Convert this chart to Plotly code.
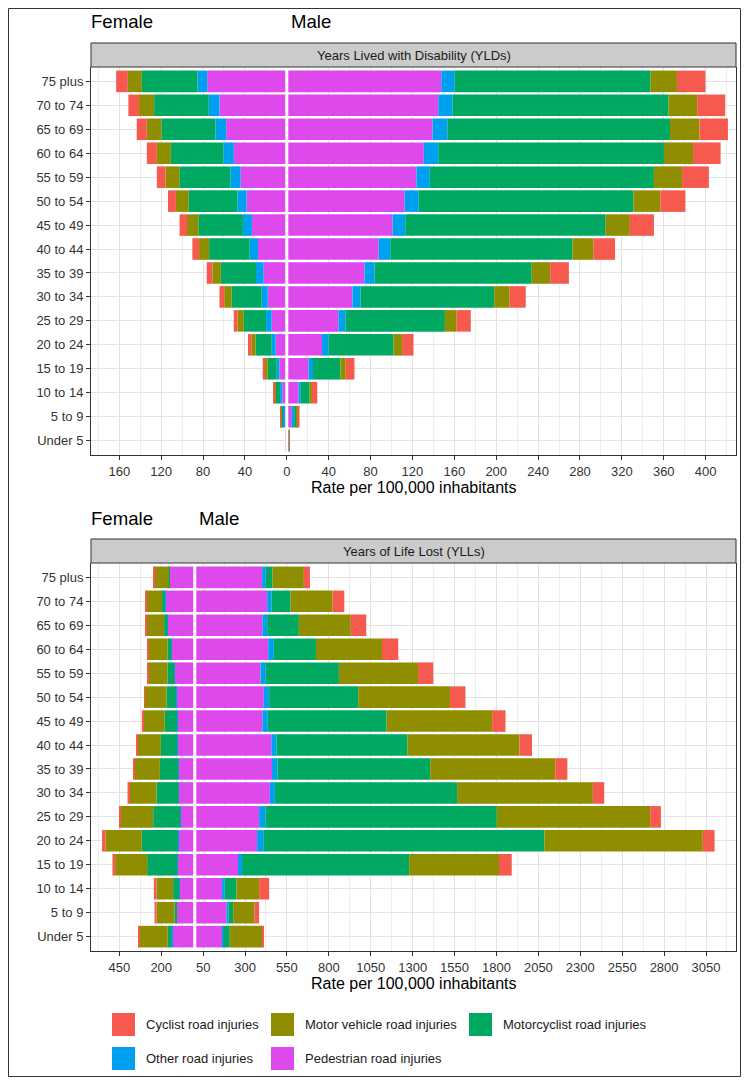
import plotly.graph_objects as go

# figure sits in the page with an 8px body margin
OX, OY = 8, 8
W, H = 733, 1069
FONT = "Liberation Sans, Arial, Helvetica, sans-serif"

# ---------------- data ----------------
ages = ["Under 5", "5 to 9", "10 to 14", "15 to 19", "20 to 24", "25 to 29",
        "30 to 34", "35 to 39", "40 to 44", "45 to 49", "50 to 54", "55 to 59",
        "60 to 64", "65 to 69", "70 to 74", "75 plus"]

# stacking order from zero outward
causes = ["Pedestrian road injuries", "Other road injuries",
          "Motorcyclist road injuries", "Motor vehicle road injuries",
          "Cyclist road injuries"]
legend_order = ["Cyclist road injuries", "Motor vehicle road injuries",
                "Motorcyclist road injuries", "Other road injuries",
                "Pedestrian road injuries"]
cause_colors = ["#DE49EC", "#00A0F0", "#00A862", "#8E8E00", "#F65A4E"]

# Years Lived with Disability (YLDs), rate per 100,000
yld_female_pedestrian = [0.5, 2.5, 4.2, 7.0, 10.6, 14.4, 18.2, 22.1, 27.5, 33.3, 38.4, 44.1, 50.6, 57.9, 64.3, 76.0]
yld_female_other = [0.2, 1.3, 2.2, 2.6, 3.8, 5.4, 5.8, 7.3, 8.0, 8.6, 8.9, 9.6, 9.9, 10.2, 10.2, 9.2]
yld_female_motorcyclist = [0.5, 1.5, 4.2, 8.6, 15.4, 21.2, 28.8, 33.6, 38.7, 42.6, 46.7, 49.0, 50.2, 51.6, 52.2, 53.2]
yld_female_motor_vehicle = [0.3, 0.5, 1.2, 2.9, 4.1, 6.0, 7.0, 8.0, 9.6, 10.8, 11.9, 13.1, 13.4, 14.0, 14.4, 13.4]
yld_female_cyclist = [0.2, 0.6, 1.0, 1.9, 3.2, 3.6, 4.5, 5.5, 6.4, 7.1, 7.6, 8.3, 9.6, 9.6, 10.2, 11.2]

yld_male_pedestrian = [0.8, 4.8, 11.2, 20.8, 33.6, 49.3, 62.7, 74.2, 87.7, 101.1, 112.6, 123.8, 130.8, 139.2, 144.6, 147.5]
yld_male_other = [0.3, 2.2, 2.2, 4.2, 6.1, 6.7, 7.7, 9.6, 11.1, 12.0, 13.4, 12.8, 13.8, 14.1, 13.7, 12.8]
yld_male_motorcyclist = [1.0, 2.6, 8.4, 26.2, 62.1, 95.0, 127.7, 150.1, 174.1, 191.4, 205.1, 214.0, 215.6, 212.7, 206.1, 187.0]
yld_male_motor_vehicle = [0.5, 0.6, 2.2, 5.1, 8.3, 11.2, 14.7, 17.6, 20.1, 23.1, 25.6, 26.9, 27.8, 28.1, 27.5, 25.3]
yld_male_cyclist = [0.3, 2.0, 5.1, 8.3, 10.9, 13.5, 15.4, 17.9, 20.5, 23.0, 24.0, 25.6, 26.3, 27.2, 26.8, 27.2]

# Years of Life Lost (YLLs), rate per 100,000
yll_female_pedestrian = [131, 108, 90, 100, 98, 84, 94, 96, 102, 102, 110, 118, 136, 160, 176, 150]
yll_female_other = [8, 3, 3, 3, 3, 3, 3, 3, 3, 3, 3, 3, 3, 3, 3, 3]
yll_female_motorcyclist = [22, 10, 36, 181, 215, 161, 131, 109, 97, 74, 56, 42, 24, 20, 16, 2]
yll_female_motor_vehicle = [169, 107, 99, 191, 217, 197, 163, 149, 139, 129, 129, 115, 113, 105, 94, 87]
yll_female_cyclist = [4, 12, 16, 16, 20, 6, 10, 6, 6, 8, 4, 6, 4, 4, 4, 2]

yll_male_pedestrian = [163, 189, 163, 258, 372, 384, 448, 461, 457, 404, 412, 392, 438, 404, 432, 402]
yll_male_other = [8, 12, 16, 24, 40, 38, 30, 32, 30, 32, 32, 32, 34, 28, 26, 22]
yll_male_motorcyclist = [38, 28, 70, 997, 1674, 1380, 1087, 912, 782, 708, 531, 436, 251, 189, 113, 40]
yll_male_motor_vehicle = [193, 127, 135, 536, 945, 915, 810, 746, 668, 630, 548, 472, 394, 310, 251, 187]
yll_male_cyclist = [6, 28, 60, 76, 70, 64, 68, 72, 75, 80, 92, 91, 97, 92, 70, 36]

top_tickvals = [-160, -120, -80, -40, 0, 40, 80, 120, 160, 200, 240, 280, 320, 360, 400]
top_ticktext = ["160", "120", "80", "40", "0", "40", "80", "120", "160", "200", "240", "280", "320", "360", "400"]
bottom_tickvals = [-450, -200, 50, 300, 550, 800, 1050, 1300, 1550, 1800, 2050, 2300, 2550, 2800, 3050]
bottom_ticktext = ["450", "200", "50", "300", "550", "800", "1050", "1300", "1550", "1800", "2050", "2300", "2550", "2800", "3050"]

panel_titles = ["Years Lived with Disability (YLDs)", "Years of Life Lost (YLLs)"]
axis_title = "Rate per 100,000 inhabitants"

yld_female = [yld_female_pedestrian, yld_female_other, yld_female_motorcyclist, yld_female_motor_vehicle, yld_female_cyclist]
yld_male = [yld_male_pedestrian, yld_male_other, yld_male_motorcyclist, yld_male_motor_vehicle, yld_male_cyclist]
yll_female = [yll_female_pedestrian, yll_female_other, yll_female_motorcyclist, yll_female_motor_vehicle, yll_female_cyclist]
yll_male = [yll_male_pedestrian, yll_male_other, yll_male_motorcyclist, yll_male_motor_vehicle, yll_male_cyclist]

# ---------------- helpers (page pixel -> paper) ----------------
def px(x):
    return (x - OX) / W

def py(y):
    return 1 - (y - OY) / H

fig = go.Figure()

panels = [("x", "y", yld_female, yld_male), ("x2", "y2", yll_female, yll_male)]
for xa, ya, fem, mal in panels:
    for i, cause in enumerate(causes):
        fig.add_trace(go.Bar(
            y=ages, x=[-v for v in fem[i]], orientation="h",
            marker=dict(color=cause_colors[i], line=dict(width=0)),
            name=cause, legendgroup=cause, showlegend=False,
            xaxis=xa, yaxis=ya, customdata=fem[i],
            hovertemplate="Female<br>%{y}<br>" + cause + ": %{customdata}<extra></extra>"))
        fig.add_trace(go.Bar(
            y=ages, x=mal[i], orientation="h",
            marker=dict(color=cause_colors[i], line=dict(width=0)),
            name=cause, legendgroup=cause, showlegend=False,
            xaxis=xa, yaxis=ya,
            hovertemplate="Male<br>%{y}<br>" + cause + ": %{x}<extra></extra>"))

# panel geometry in page pixels
PX0, PX1 = 91, 736
top_strip = (43, 67)
top_panel = (67, 455)
bot_strip = (539, 563)
bot_panel = (563, 951)

grid_major = "#E2E2E2"
grid_minor = "#ECECEC"
axis_col = "#333333"

top_minor = [v + 20 for v in range(-200, 440, 40)]
bot_minor = [v + 125 for v in range(-700, 3300, 250)]

common_x = dict(ticks="outside", ticklen=4, tickcolor=axis_col, tickwidth=1,
                showline=True, linecolor=axis_col, linewidth=1,
                showgrid=True, gridcolor=grid_major, gridwidth=1.1,
                zeroline=False, automargin=False, tickmode="array",
                tickfont=dict(family=FONT, size=13, color=axis_col))
common_y = dict(type="category", categoryorder="array", categoryarray=ages,
                range=[-0.6, 15.6], ticks="outside", ticklen=4, tickcolor=axis_col,
                showline=True, linecolor=axis_col, linewidth=1, mirror=True,
                showgrid=True, gridcolor=grid_major, gridwidth=1.1,
                zeroline=False, automargin=False,
                tickfont=dict(family=FONT, size=13, color=axis_col))

fig.update_layout(
    xaxis=dict(domain=[px(PX0), px(PX1)], anchor="y", range=[-187, 429],
               tickvals=top_tickvals, ticktext=top_ticktext,
               minor=dict(tickvals=top_minor, showgrid=True, gridcolor=grid_minor, gridwidth=0.9, ticks=""),
               **common_x),
    yaxis=dict(domain=[py(top_panel[1]), py(top_panel[0])], anchor="x", **common_y),
    xaxis2=dict(domain=[px(PX0), px(PX1)], anchor="y2", range=[-619, 3229],
                tickvals=bottom_tickvals, ticktext=bottom_ticktext,
                minor=dict(tickvals=bot_minor, showgrid=True, gridcolor=grid_minor, gridwidth=0.9, ticks=""),
                **common_x),
    yaxis2=dict(domain=[py(bot_panel[1]), py(bot_panel[0])], anchor="x2", **common_y),
    barmode="relative", bargap=0.1,
    width=W, height=H, margin=dict(l=0, r=0, t=0, b=0, pad=0),
    paper_bgcolor="white", plot_bgcolor="white",
    showlegend=False, font=dict(family=FONT, color="#1A1A1A"),
)

shapes = []
annotations = []

# zero separator lines
for xa, ya in (("x", "y"), ("x2", "y2")):
    shapes.append(dict(type="line", xref=xa, yref=ya + " domain", x0=0, x1=0, y0=0, y1=1,
                       line=dict(color="white", width=3), layer="above"))

# strips
for (s0, s1), title in zip((top_strip, bot_strip), panel_titles):
    shapes.append(dict(type="rect", xref="paper", yref="paper",
                       x0=px(PX0), x1=px(PX1), y0=py(s1), y1=py(s0),
                       fillcolor="#CBCBCB", line=dict(color=axis_col, width=1), layer="above"))
    annotations.append(dict(xref="paper", yref="paper", x=px((PX0 + PX1) / 2), y=py((s0 + s1) / 2),
                            text=title, showarrow=False, xanchor="center", yanchor="middle",
                            font=dict(family=FONT, size=13, color="#1A1A1A")))

# Female / Male headings
for xa, ytxt in (("x", 22), ("x2", 518)):
    annotations.append(dict(xref="paper", yref="paper", x=px(89), y=py(ytxt), text="Female",
                            showarrow=False, xanchor="left", yanchor="middle",
                            font=dict(family=FONT, size=18.6, color="black")))
    annotations.append(dict(xref=xa, yref="paper", x=0, y=py(ytxt), text="Male", xshift=2,
                            showarrow=False, xanchor="left", yanchor="middle",
                            font=dict(family=FONT, size=18.6, color="black")))

# axis titles
for yt in (487, 983):
    annotations.append(dict(xref="paper", yref="paper", x=px((PX0 + PX1) / 2), y=py(yt),
                            text=axis_title, showarrow=False, xanchor="center", yanchor="middle",
                            font=dict(family=FONT, size=16, color="black")))

# legend (keys and labels)
key_cols = [112, 271, 469]
key_rows = [1013, 1047]
color_of = dict(zip(causes, cause_colors))
for k, name in enumerate(legend_order):
    r, c = divmod(k, 3)
    x0, y0 = key_cols[c], key_rows[r]
    shapes.append(dict(type="rect", xref="paper", yref="paper",
                       x0=px(x0), x1=px(x0 + 23), y0=py(y0 + 23), y1=py(y0),
                       fillcolor=color_of[name], line=dict(width=0)))
    annotations.append(dict(xref="paper", yref="paper", x=px(x0 + 32), y=py(y0 + 11.5),
                            text=name, showarrow=False, xanchor="left", yanchor="middle",
                            font=dict(family=FONT, size=13, color="#1A1A1A")))

# outer border
shapes.append(dict(type="rect", xref="paper", yref="paper",
                   x0=px(8.5), x1=px(740.5), y0=py(1076.5), y1=py(8.5),
                   line=dict(color=axis_col, width=1), fillcolor="rgba(0,0,0,0)"))

fig.update_layout(shapes=shapes, annotations=annotations)
fig.write_html("out.html")
